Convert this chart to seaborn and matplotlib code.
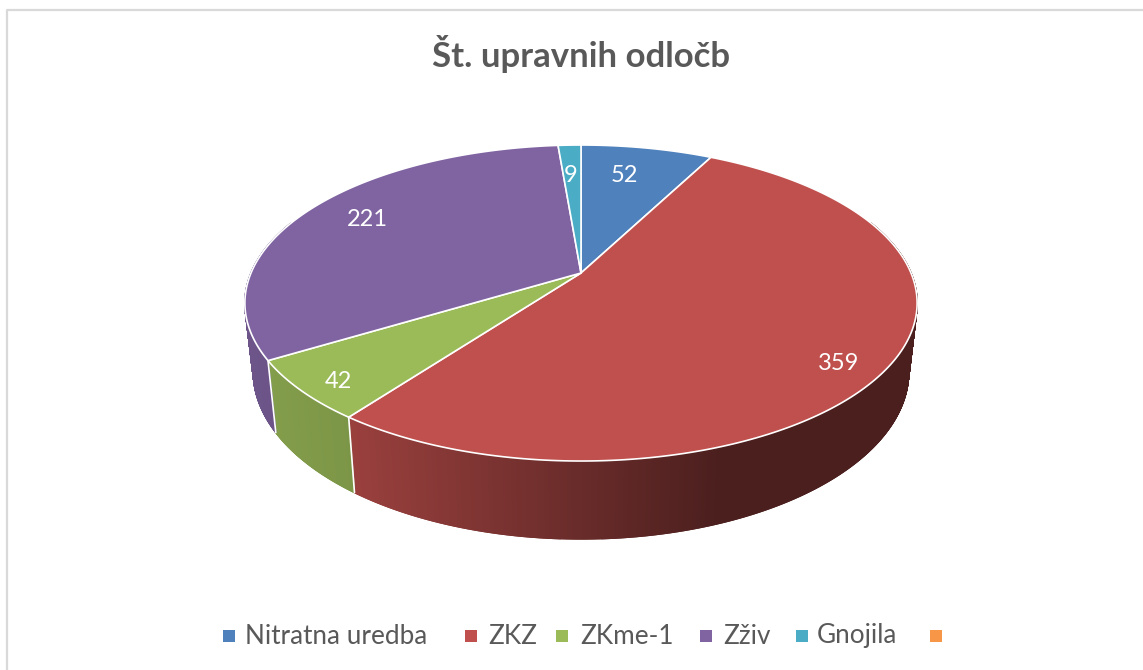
# 3D pie - st. upravnih odlocb
import numpy as np
import pandas as pd
import matplotlib
matplotlib.use("Agg")
import matplotlib.pyplot as plt
import seaborn as sns

categories = ["Nitratna uredba", "ZKZ", "ZKme-1", "Zživ", "Gnojila", ""]
values = [52, 359, 42, 221, 9, 0]
colors = ["#4F81BD", "#C0504D", "#9BBB59", "#8064A2", "#4BACC6", "#F79646"]
title = "Št. upravnih odločb"

# layout in pixels
apex_x, apex_y = 581, 273
rad_x, rad_y, persp = 330, 152.3, 0.19
low_sx, low_sy, low_dy = 0.975, 1.06, 66.7
label_pos = [(624, 176), (839, 363), (338, 381), (367, 220), (571, 176)]
legend_sq_x = [229, 471, 562, 706, 802, 936]
legend_txt_x = [245, 488, 580, 723, 817]
legend_y = 636
grey = "#595959"

sns.set_theme(style="white")
plt.rcParams["font.family"] = ["Lato", "DejaVu Sans"]
palette = sns.color_palette(colors)

fig = plt.figure(figsize=(11.43, 6.7), dpi=100)
ax = fig.add_axes([0, 0, 1, 1])
ax.set_xlim(0, 1143)
ax.set_ylim(670, 0)
ax.axis("off")


# top face point for a clockwise angle from 12 o'clock
def top_xy(theta):
    xx = np.sin(theta)
    yy = np.cos(theta)
    d = 1 + persp * yy
    return apex_x + rad_x * xx / d, apex_y - rad_y * yy / d


def low_xy(theta):
    x, y = top_xy(theta)
    return apex_x + low_sx * (x - apex_x), apex_y + low_dy + low_sy * (y - apex_y)


# how dark the side gets going left to right
def shade(x):
    return np.interp(x, [245, 350, 720, 917], [0.85, 0.80, 0.39, 0.39])


vals = np.array(values, dtype=float)
edges = np.concatenate([[0], np.cumsum(vals)]) / vals.sum() * 2 * np.pi

# side wall, thin strips so the gradient works
for i in range(len(vals)):
    if vals[i] == 0:
        continue
    th = np.linspace(edges[i], edges[i + 1], max(3, int(vals[i] * 5)))
    for a, b in zip(th[:-1], th[1:]):
        if np.cos((a + b) / 2) > 0.35:
            continue
        x1, y1 = top_xy(np.array([a, b]))
        x2, y2 = low_xy(np.array([b, a]))
        f = shade(x1.mean())
        col = tuple(c * f for c in palette[i])
        ax.fill(np.r_[x1, x2], np.r_[y1, y2], color=col, lw=1.0, zorder=2)

# white seams on the wall
for e in edges[1:-1]:
    if np.cos(e) < 0 and vals.sum() > 0:
        x1, y1 = top_xy(e)
        x2, y2 = low_xy(e)
        ax.plot([x1, x2], [y1, y2], color="white", lw=1.2, zorder=3)

# top face
for i in range(len(vals)):
    if vals[i] == 0:
        continue
    th = np.linspace(edges[i], edges[i + 1], 200)
    x, y = top_xy(th)
    ax.fill(np.r_[apex_x, x], np.r_[apex_y, y], facecolor=palette[i],
            edgecolor="white", lw=1.2, joinstyle="round", zorder=4)

# value labels
for i, pos in enumerate(label_pos):
    ax.text(pos[0], pos[1], str(values[i]), color="white", fontsize=17,
            ha="center", va="center", zorder=5)

ax.text(581, 54, title, color=grey, fontsize=25, fontweight="bold",
        ha="center", va="center")

# legend
leg = pd.DataFrame({"x": legend_sq_x, "y": [legend_y] * 6, "cat": categories})
sns.scatterplot(data=leg, x="x", y="y", hue="cat", hue_order=categories,
                palette=palette, marker="s", s=75, linewidth=0, legend=False, ax=ax)
ax.set_xlabel("")
ax.set_ylabel("")
for name, tx in zip(categories[:5], legend_txt_x):
    ax.text(tx, legend_y, name, color=grey, fontsize=18.8, ha="left", va="center")

# chart frame, cut off by the crop on the right and bottom
ax.plot([7, 7, 1143], [670, 10, 10], color="#D9D9D9", lw=1.6)

fig.savefig("out.png", dpi=100, facecolor="white")
